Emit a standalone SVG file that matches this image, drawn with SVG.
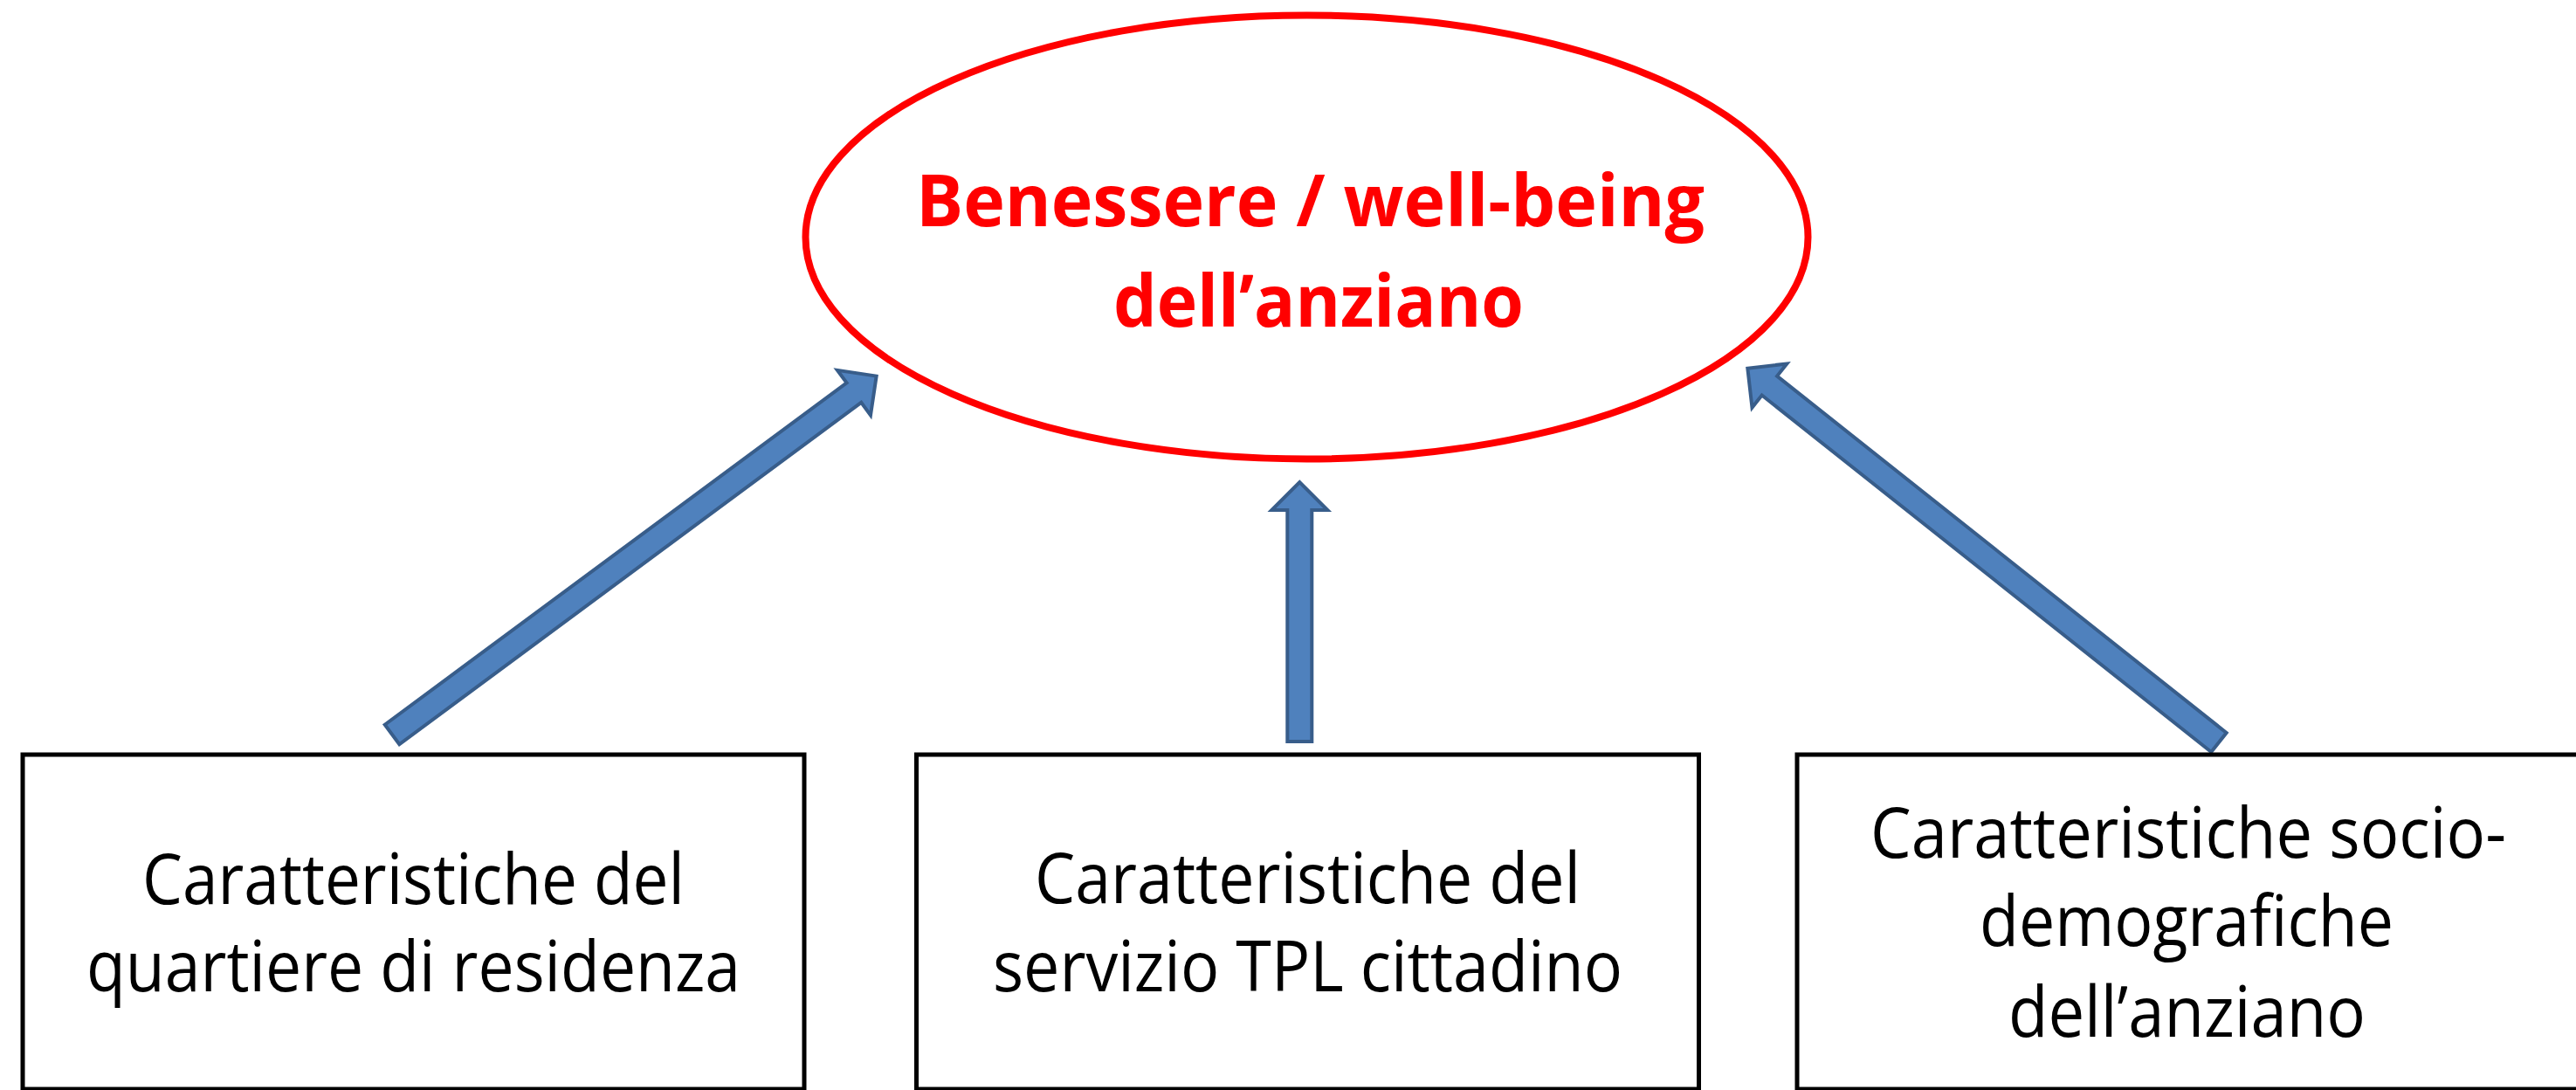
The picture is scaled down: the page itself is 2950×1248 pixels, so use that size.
<svg xmlns="http://www.w3.org/2000/svg" width="2950" height="1248" viewBox="0 0 2950 1248">
  <style>
    .box { fill: #FFFFFF; stroke: #000000; stroke-width: 5; }
    .oval { fill: #FFFFFF; stroke: #FF0000; stroke-width: 8; }
    .lbl { font-family: "Open Sans", "Liberation Sans", sans-serif; font-size: 81px; fill: #000000; }
    .title { font-family: "Open Sans", "Liberation Sans", sans-serif; font-size: 82px; font-weight: bold; fill: #FF0000; }
    .arrow { fill: #4F81BD; stroke: #385D8A; stroke-width: 4; stroke-linejoin: miter; }
  </style>
  <rect width="2950" height="1248" fill="#FFFFFF"/>

  <g id="connectors">
    <path class="arrow" transform="translate(449,841) rotate(-36.5)" d="M0,-14 H658 V-32 L690,0 L658,32 V14 H0 Z"/>
    <path class="arrow" transform="translate(1488.3,849) rotate(-90)" d="M0,-14 H265 V-32 L297,0 L265,32 V14 H0 Z"/>
    <path class="arrow" transform="translate(2541,850) rotate(-141.56)" d="M0,-14 H657 V-32 L689,0 L657,32 V14 H0 Z"/>
  </g>

  <g id="node-wellbeing">
    <ellipse class="oval" cx="1496.5" cy="271.5" rx="574" ry="254"/>
    <text class="title" x="1049" y="259" textLength="903" lengthAdjust="spacingAndGlyphs">Benessere / well-being</text>
    <text class="title" x="1275" y="374" textLength="470" lengthAdjust="spacingAndGlyphs">dell’anziano</text>
  </g>

  <g id="node-quartiere">
    <rect class="box" x="26" y="864" width="895" height="383"/>
    <text class="lbl" x="163" y="1035" textLength="621" lengthAdjust="spacingAndGlyphs">Caratteristiche del</text>
    <text class="lbl" x="99" y="1135" textLength="749" lengthAdjust="spacingAndGlyphs">quartiere di residenza</text>
  </g>

  <g id="node-tpl">
    <rect class="box" x="1049.5" y="864" width="896" height="383"/>
    <text class="lbl" x="1185" y="1034" textLength="625" lengthAdjust="spacingAndGlyphs">Caratteristiche del</text>
    <text class="lbl" x="1137" y="1135" textLength="721" lengthAdjust="spacingAndGlyphs">servizio TPL cittadino</text>
  </g>

  <g id="node-socio">
    <rect class="box" x="2058" y="864" width="896" height="383"/>
    <text class="lbl" x="2142" y="982" textLength="728" lengthAdjust="spacingAndGlyphs">Caratteristiche socio-</text>
    <text class="lbl" x="2267" y="1083" textLength="474" lengthAdjust="spacingAndGlyphs">demografiche</text>
    <text class="lbl" x="2300" y="1187" textLength="409" lengthAdjust="spacingAndGlyphs">dell’anziano</text>
  </g>
</svg>
